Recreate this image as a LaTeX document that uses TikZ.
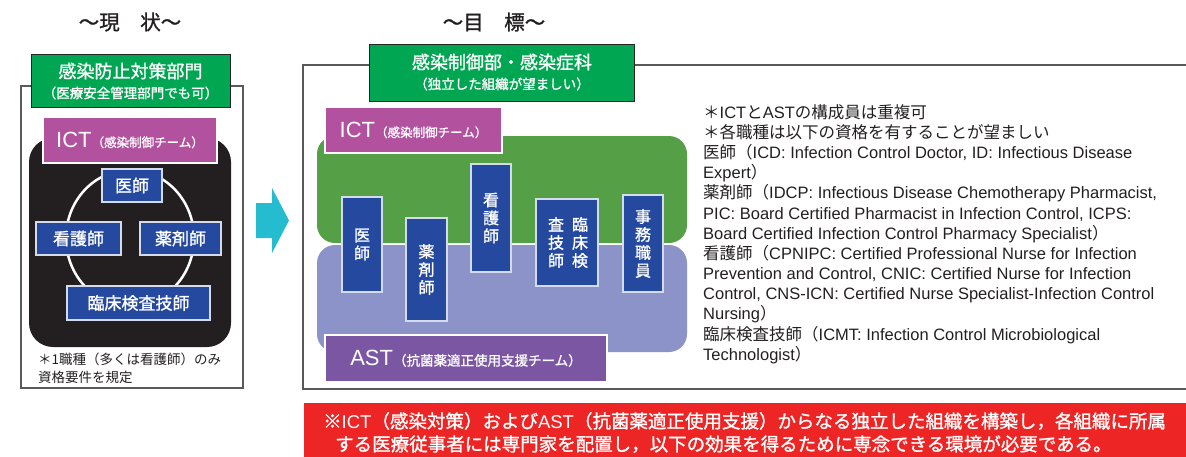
\documentclass[tikz,border=0pt]{standalone}
\usepackage{fontspec}
\setmainfont{Liberation Sans}
\newfontfamily\jp{Noto Sans CJK JP}
\newfontfamily\jpm{Noto Sans CJK JP}[FakeBold=1.2]
\newfontfamily\en{Liberation Sans}
\newcommand\fs[1]{\fontsize{#1}{#1}\selectfont}
\newcommand\ja[1]{{\jp#1}}
\definecolor{bumongreen}{RGB}{0,166,81}
\definecolor{ictpink}{RGB}{178,82,159}
\definecolor{ictgreen}{RGB}{85,160,71}
\definecolor{astlav}{RGB}{139,147,200}
\definecolor{astpurple}{RGB}{122,86,163}
\definecolor{shokublue}{RGB}{36,73,158}
\definecolor{teamblack}{RGB}{35,31,32}
\definecolor{yajirushi}{RGB}{37,188,208}
\definecolor{hitsuyored}{RGB}{237,37,36}
\definecolor{sumi}{RGB}{35,31,32}
\begin{document}
\begin{tikzpicture}[x=1pt,y=-1pt,
    waku/.style={draw=black!65,line width=1.2pt},
    bumonbox/.style={draw=black!85,line width=1pt,fill=bumongreen},
    teambox/.style={draw=white,line width=1.8pt,fill=#1,text=white,inner sep=0pt},
    shokubox/.style={draw=white!80!shokublue,line width=1.2pt,fill=shokublue,text=white,font=\jpm\fs{17},inner sep=0pt},
    tate/.style={font=\jpm\fontsize{16}{18}\selectfont,align=center},
    shiro/.style={text=white,inner sep=0pt},
    chu/.style={text=sumi,anchor=base west,inner sep=0pt}]
    \useasboundingbox (0,0) rectangle (1186,456);
    \node[font=\jpm\fs{20.5},text=sumi] (genjo) at (130,22) {～現　状～};
    \node[font=\jpm\fs{20.5},text=sumi] (mokuhyo) at (494,22) {～目　標～};
    \draw[waku] (21,86) rectangle (243,388);
    \node[bumonbox,minimum width=199,minimum height=53] (bumonL) at (130.5,80.5) {};
    \node[shiro,font=\jpm\fs{18}] (bumonLa) at (130.5,71) {感染防止対策部門};
    \node[shiro,font=\jpm\fs{13.5}] (bumonLb) at (130.5,93) {（医療安全管理部門でも可）};
    \fill[teamblack,rounded corners=24] (29,138) rectangle (231,347);
    \draw[white,line width=2.5pt] (130,238) ellipse [x radius=64,y radius=68];
    \node[teambox=ictpink,minimum width=174,minimum height=46] (ictL) at (130,140) {\en\fs{22}ICT\jpm\fs{12.5}（感染制御チーム）};
    \node[shokubox,minimum width=60,minimum height=33] (ishiL) at (132,185.5) {医師};
    \node[shokubox,minimum width=85,minimum height=33] (kangoL) at (78.5,238.5) {看護師};
    \node[shokubox,minimum width=81,minimum height=33] (yakuL) at (180.5,238.5) {薬剤師};
    \node[shokubox,minimum width=143,minimum height=34] (rinshoL) at (138.5,303) {臨床検査技師};
    \node[chu,font=\jp\fs{13.5}] (chuL1) at (38,364) {＊1職種（多くは看護師）のみ};
    \node[chu,font=\jp\fs{13.5}] (chuL2) at (38,382) {資格要件を規定};
    \fill[yajirushi] (256,203) -- (272,203) -- (272,188) -- (289,220.5) -- (272,253) -- (272,238) -- (256,238) -- cycle;
    \draw[waku] (303,65) rectangle (1195,389);
    \node[bumonbox,minimum width=265,minimum height=57] (bumonR) at (501.5,72.5) {};
    \node[shiro,font=\jpm\fs{18}] (bumonRa) at (502,62) {感染制御部・感染症科};
    \node[shiro,font=\jpm\fs{13.5}] (bumonRb) at (502,84) {（独立した組織が望ましい）};
    \fill[ictgreen,rounded corners=18] (317,136) rectangle (687,243);
    \fill[astlav,rounded corners=18] (317,245) rectangle (687,352);
    \node[teambox=ictpink,minimum width=177,minimum height=46] (ictR) at (413.5,130) {\en\fs{22}ICT\jpm\fs{12.5}（感染制御チーム）};
    \node[teambox=astpurple,minimum width=282,minimum height=47] (astR) at (466,358.5) {\en\fs{22}AST\jpm\fs{13.5}（抗菌薬適正使用支援チーム）};
    \node[shokubox,tate,minimum width=40,minimum height=95] (ishiR) at (362,244.5) {医\\師};
    \node[shokubox,tate,minimum width=41,minimum height=103] (yakuR) at (426.5,269.5) {薬\\剤\\師};
    \node[shokubox,tate,minimum width=40,minimum height=108] (kangoR) at (491,218) {看\\護\\師};
    \node[shokubox,minimum width=62,minimum height=87] (rinshoR) at (567,242.5) {};
    \node[shiro,tate] (rinshoRa) at (580,242.5) {臨\\床\\検};
    \node[shiro,tate] (rinshoRb) at (556,242.5) {査\\技\\師};
    \node[shokubox,tate,minimum width=40,minimum height=97] (jimuR) at (643,243.5) {事\\務\\職\\員};
    \foreach \gyo [count=\i] in {
        {\ja{＊}ICT\ja{と}AST\ja{の構成員は重複可}},
        {\ja{＊各職種は以下の資格を有することが望ましい}},
        {\ja{医師（}ICD: Infection Control Doctor, ID: Infectious Disease},
        {Expert\ja{）}},
        {\ja{薬剤師（}IDCP: Infectious Disease Chemotherapy Pharmacist,},
        {PIC: Board Certified Pharmacist in Infection Control, ICPS:},
        {Board Certified Infection Control Pharmacy Specialist\ja{）}},
        {\ja{看護師（}CPNIPC: Certified Professional Nurse for Infection},
        {Prevention and Control, CNIC: Certified Nurse for Infection},
        {Control, CNS-ICN: Certified Nurse Specialist-Infection Control},
        {Nursing\ja{）}},
        {\ja{臨床検査技師（}ICMT: Infection Control Microbiological},
        {Technologist\ja{）}}}
        \node[chu,font=\en\fs{16.5}] (chuR\i) at (703,98+20.17*\i) {\gyo};
    \node[fill=hitsuyored,minimum width=886,minimum height=54,inner sep=0pt] (hitsuyo) at (747,430) {};
    \node[chu,text=white,font=\jpm\fs{18.5}] (hitsuyo1) at (323,428) {※\en ICT\jpm（感染対策）および\en AST\jpm（抗菌薬適正使用支援）からなる独立した組織を構築し，各組織に所属};
    \node[chu,text=white,font=\jpm\fs{18.5}] (hitsuyo2) at (335,451) {する医療従事者には専門家を配置し，以下の効果を得るために専念できる環境が必要である。};
\end{tikzpicture}
\end{document}
